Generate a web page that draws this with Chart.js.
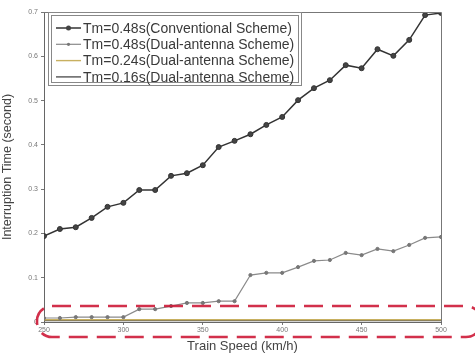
<!DOCTYPE html>
<html>
<head>
<meta charset="utf-8">
<script src="https://cdn.jsdelivr.net/npm/chart.js@4.4.1/dist/chart.umd.min.js"></script>
<style>
  html, body { margin: 0; padding: 0; background: #fff; }
  #wrap { width: 475px; height: 354px; }
</style>
</head>
<body>
<div id="wrap"><canvas id="c" width="475" height="354"></canvas></div>
<script>
// Train speed (km/h)
const speeds = [250, 260, 270, 280, 290, 300, 310, 320, 330, 340, 350, 360, 370,
                380, 390, 400, 410, 420, 430, 440, 450, 460, 470, 480, 490, 500];

// Interruption time (s) for each handover scheme
const conventional48 = [0.194, 0.210, 0.214, 0.235, 0.260, 0.269, 0.298, 0.298, 0.330, 0.336,
                        0.354, 0.395, 0.409, 0.424, 0.445, 0.463, 0.501, 0.528, 0.546, 0.580,
                        0.573, 0.616, 0.601, 0.637, 0.693, 0.698];
const dual48 = [0.009, 0.009, 0.011, 0.011, 0.011, 0.011, 0.029, 0.029, 0.036, 0.043,
                0.043, 0.047, 0.047, 0.106, 0.111, 0.111, 0.124, 0.138, 0.140, 0.156,
                0.151, 0.165, 0.160, 0.174, 0.190, 0.192];
const dual24 = [0.005, 0.005, 0.005, 0.005, 0.005, 0.005, 0.005, 0.005, 0.005, 0.005,
                0.005, 0.005, 0.005, 0.005, 0.005, 0.005, 0.005, 0.005, 0.005, 0.005,
                0.005, 0.005, 0.005, 0.005, 0.005, 0.005];
const dual16 = [0.003, 0.003, 0.003, 0.003, 0.003, 0.003, 0.003, 0.003, 0.003, 0.003,
                0.003, 0.003, 0.003, 0.003, 0.003, 0.003, 0.003, 0.003, 0.003, 0.003,
                0.003, 0.003, 0.003, 0.003, 0.003, 0.003];

const seriesLabels = [
  'Tm=0.48s(Conventional Scheme)',
  'Tm=0.48s(Dual-antenna Scheme)',
  'Tm=0.24s(Dual-antenna Scheme)',
  'Tm=0.16s(Dual-antenna Scheme)'
];
const yTicks = [0, 0.1, 0.2, 0.3, 0.4, 0.5, 0.6, 0.7];
const xTicks = [250, 300, 350, 400, 450, 500];

const FONT = '"Liberation Sans", Arial, sans-serif';

function pts(vals) { return speeds.map((s, i) => ({ x: s, y: vals[i] })); }

// Frame on top/right, inset legend and the dashed highlight around the low curves
const decor = {
  id: 'decor',
  afterDatasetsDraw(chart) {
    const { ctx, chartArea: a, scales } = chart;
    ctx.save();
    ctx.strokeStyle = '#777';
    ctx.lineWidth = 1;
    ctx.beginPath();
    ctx.moveTo(a.left, a.top + 0.5);
    ctx.lineTo(a.right + 0.5, a.top + 0.5);
    ctx.lineTo(a.right + 0.5, a.bottom);
    ctx.stroke();

    // legend box (double border)
    const lx = a.left + 4, ly = a.top, lw = 253, lh = 73;
    ctx.fillStyle = '#fff';
    ctx.fillRect(lx, ly, lw, lh);
    ctx.strokeStyle = '#888';
    ctx.strokeRect(lx + 0.5, ly + 0.5, lw, lh);
    ctx.strokeRect(lx + 3.5, ly + 3.5, lw - 6, lh - 6);
    ctx.font = '14px ' + FONT;
    ctx.textBaseline = 'middle';
    chart.data.datasets.forEach((ds, i) => {
      const yy = ly + 16 + i * 16.3;
      ctx.strokeStyle = ds.borderColor;
      ctx.lineWidth = ds.borderWidth;
      ctx.beginPath();
      ctx.moveTo(lx + 8, yy);
      ctx.lineTo(lx + 33, yy);
      ctx.stroke();
      if (ds.pointRadius > 0) {
        ctx.fillStyle = ds.pointBackgroundColor;
        ctx.beginPath();
        ctx.arc(lx + 20.5, yy, ds.pointRadius, 0, Math.PI * 2);
        ctx.fill();
      }
      ctx.fillStyle = '#3a3a3a';
      ctx.fillText(ds.label, lx + 35, yy + 1);
    });

    // dashed rounded outline
    const x0 = scales.x.getPixelForValue(250) - 7;
    const x1 = scales.x.getPixelForValue(500) + 40;
    const y0 = scales.y.getPixelForValue(0.036);
    const y1 = a.bottom + 15;
    const r = 15;
    ctx.strokeStyle = 'rgba(205,25,55,0.9)';
    ctx.lineWidth = 2.6;
    ctx.setLineDash([19, 9]);
    ctx.beginPath();
    ctx.moveTo(x0 + r, y0);
    ctx.lineTo(x1 - r, y0);
    ctx.arcTo(x1, y0, x1, y0 + r, r);
    ctx.arcTo(x1, y1, x1 - r, y1, r);
    ctx.lineTo(x0 + r, y1);
    ctx.arcTo(x0, y1, x0, y1 - r, r);
    ctx.arcTo(x0, y0, x0 + r, y0, r);
    ctx.stroke();
    ctx.restore();
  }
};

new Chart(document.getElementById('c'), {
  type: 'line',
  data: {
    datasets: [
      { label: seriesLabels[0], data: pts(conventional48), borderColor: '#333', borderWidth: 1.5,
        pointRadius: 2.5, pointBackgroundColor: '#444', pointBorderColor: '#333', pointBorderWidth: 1 },
      { label: seriesLabels[1], data: pts(dual48), borderColor: '#8a8a8a', borderWidth: 1.2,
        pointRadius: 1.6, pointBackgroundColor: '#777', pointBorderColor: '#777', pointBorderWidth: 1 },
      { label: seriesLabels[2], data: pts(dual24), borderColor: '#c8b060', borderWidth: 1.4,
        pointRadius: 0, pointBackgroundColor: '#f0b0c0' },
      { label: seriesLabels[3], data: pts(dual16), borderColor: '#555', borderWidth: 1.4,
        pointRadius: 0, pointBackgroundColor: '#555' }
    ]
  },
  options: {
    responsive: false,
    animation: false,
    layout: { padding: { top: 12, right: 34, left: 0, bottom: 0 } },
    plugins: { legend: { display: false }, tooltip: { enabled: false } },
    scales: {
      x: {
        type: 'linear', min: 250, max: 500,
        afterBuildTicks: s => { s.ticks = xTicks.map(v => ({ value: v })); },
        afterFit: s => { s.height = 32; },
        grid: { display: true, drawOnChartArea: false, tickLength: 3, color: '#777' },
        border: { color: '#666', width: 1 },
        ticks: { color: '#777', font: { size: 7, family: FONT }, padding: 1, maxRotation: 0 },
        title: { display: true, text: 'Train Speed (km/h)', color: '#444',
                 font: { size: 13, family: FONT }, padding: { top: 0, bottom: 0 } }
      },
      y: {
        min: 0, max: 0.7,
        afterBuildTicks: s => { s.ticks = yTicks.map(v => ({ value: v })); },
        afterFit: s => { s.width = 44; },
        grid: { display: true, drawOnChartArea: false, tickLength: 3, color: '#777' },
        border: { color: '#666', width: 1 },
        ticks: { color: '#777', font: { size: 7, family: FONT }, padding: 3,
                 callback: v => v === 0 ? '0' : v.toFixed(1) },
        title: { display: true, text: 'Interruption Time (second)', color: '#444',
                 font: { size: 12.5, family: FONT }, padding: { top: 0, bottom: 5 } }
      }
    }
  },
  plugins: [decor]
});
</script>
</body>
</html>
